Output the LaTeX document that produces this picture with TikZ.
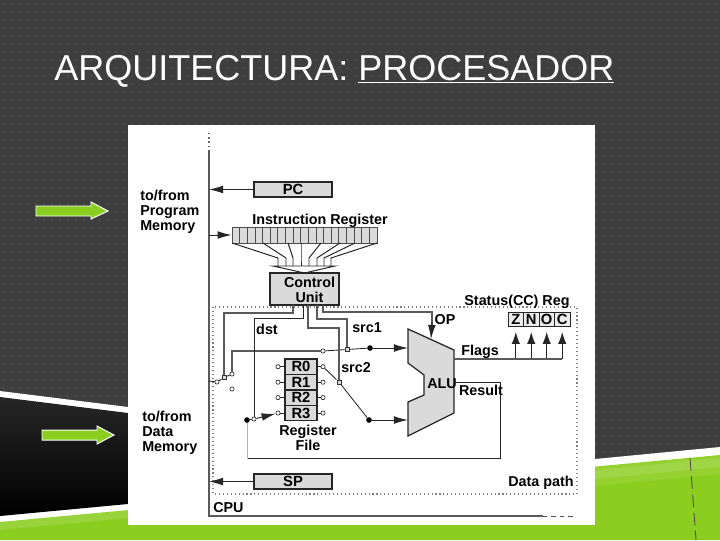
\documentclass[tikz,border=0pt]{standalone}
\usepackage{fontspec}
\setmainfont{Liberation Sans}
\usepackage{tikz}
\usetikzlibrary{arrows.meta, calc}
\definecolor{slate}{HTML}{3E3E3E}
\definecolor{grain}{HTML}{515151}
\definecolor{leaf}{HTML}{8CCE20}
\definecolor{boxgray}{HTML}{DADADA}
\definecolor{wiregray}{HTML}{5A5A5A}

\begin{document}
\begin{tikzpicture}[
    x=0.025cm, y=-0.025cm, >=Latex,
    % --- STYLES ---
    reg_box/.style={rectangle, draw=black!85, line width=0.9pt, fill=boxgray, inner sep=0pt, outer sep=0pt, font=\bfseries\fontsize{10.5}{11}\selectfont},
    cell/.style={rectangle, draw=black!70, line width=0.5pt, fill=boxgray, minimum width=0.19cm, minimum height=0.4cm, inner sep=0pt},
    bold_text/.style={font=\bfseries\fontsize{10.2}{10.7}\selectfont, text=black, inner sep=0pt, align=left, yshift=-1pt},
    tap/.style={circle, draw=black!80, fill=white, line width=0.5pt, minimum size=3pt, inner sep=0pt},
    joint/.style={rectangle, draw=black!80, fill=boxgray, line width=0.5pt, minimum size=3pt, inner sep=0pt},
    solder/.style={circle, fill=black, minimum size=4pt, inner sep=0pt},
    % Wire Styles
    thin_wire/.style={black!85, line width=0.6pt},
    ctl_wire/.style={wiregray, line width=1.1pt},
    data_push/.style={->, black!85, line width=0.7pt, >={Latex[length=10pt, width=5.5pt]}},
    flag_push/.style={->, black!85, line width=0.7pt, >={Latex[length=8.5pt, width=6pt]}},
    green_arrow/.style={draw=white, line width=0.7pt, fill=leaf}
]
\useasboundingbox (0,0) rectangle (720,540);

% --- 1. SLIDE BACKGROUND ---
\fill[slate] (0,0) rectangle (720,540);
\fill[grain] \foreach \i in {0,...,89} { \foreach \j in {0,...,60} { (\i*8+3,\j*8+3) rectangle ++(1,2) } };
\fill[white] (0,391) -- (128,407) -- (128,512) -- (0,524) -- cycle;
\shade[top color=black!85, bottom color=black] (0,397) -- (128,413) -- (128,504) -- (0,516) -- cycle;
\fill[white] (595,459) -- (720,447) -- (720,460) -- (595,472) -- cycle;
\fill[leaf] (0,522) -- (720,455) -- (720,540) -- (0,540) -- cycle;
\fill[white, opacity=0.08] (595,467) -- (720,455) -- (720,474) -- (595,486) -- cycle;
\fill[white, opacity=0.1] (595,470) -- (720,458) -- (720,467) -- (595,479) -- cycle;
\fill[white, opacity=0.12] (0,522) -- (128,510) -- (128,518) -- (0,530) -- cycle;
\draw[black!70, dashed, line width=0.6pt, dash pattern=on 9pt off 4pt] (690,458) -- (696,540);

\node[anchor=base west, text=white, inner sep=0pt, font=\fontsize{25.6}{30}\selectfont] (TITLE) at (54,80) {ARQUITECTURA: \underline{PROCESADOR}};

% Green pointers
\draw[green_arrow] (36,206) -- (91,206) -- (91,202) -- (108,211) -- (91,219) -- (91,216) -- (36,216) -- cycle;
\draw[green_arrow] (42,430) -- (97,430) -- (97,426) -- (114,435) -- (97,444) -- (97,440) -- (42,440) -- cycle;

% --- 2. WHITE PANEL AND FRAMES ---
\fill[white] (128,125) rectangle (595,525);
\draw[gray, dotted, line width=0.8pt] (213,307) rectangle (577,494);
\draw[black!60, dotted, line width=1pt] (209,133) -- (209,150);
\draw[wiregray, line width=1pt] (209,150) -- (209,516) -- (543,516);
\draw[black!70, dashed, line width=0.7pt] (543,516) -- (575,516);

% --- 3. PROGRAM SIDE ---
\node[reg_box, minimum width=1.95cm, minimum height=0.375cm] (PC) at (293,189.5) {PC};
\coordinate (BUSPC) at (209,189.5);
\draw[data_push] (PC.west) -- (BUSPC);

\foreach \k in {0,...,18} {
    \node[cell] (IR\k) at ({235.8+7.63*\k},235) {};
}
\node[bold_text] (IRT) at (320,219) {Instruction Register};
\coordinate (BUSIR) at (209,235);
\draw[data_push] (BUSIR) -- (IR0.west);

\node[reg_box, minimum width=1.725cm, minimum height=0.8cm] (CU) at (304.5,289) {};
\node[bold_text, align=center] (CUT) at (309.5,288.5) {Control\\Unit};

% Fan into the control unit
\foreach \from/\to in {232/278, 263/286, 288/293, 301/301, 321/309, 340/317, 355/324, 377/331} {
    \draw[black!85, line width=0.7pt] (\from,243) -- (\to,258) -- (\to,266);
}
\coordinate (FUNL) at (273,266);
\coordinate (FUNR) at (335,266);
\draw[black!85, line width=0.7pt] (FUNL) -- (FUNR) -- (CU.north) -- cycle;

% --- 4. REGISTER FILE ---
\foreach \n/\yy in {0/366.7, 1/382.2, 2/397.6, 3/413} {
    \node[reg_box, minimum width=0.8cm, minimum height=0.385cm] (R\n) at (301,\yy) {R\n};
    \node[tap] (RL\n) at (278,\yy) {};
    \node[tap] (RR\n) at (323,\yy) {};
    \draw[thin_wire] (RL\n) -- (R\n);
    \draw[thin_wire] (R\n) -- (RR\n);
}
\node[bold_text, align=center] (RFT) at (308,436) {Register\\File};

% --- 5. ALU ---
\draw[black!85, line width=0.9pt, fill=boxgray] (408,329) -- (454,350) -- (454,413) -- (408,436) -- (408,402) -- (424,395) -- (424,375) -- (408,363) -- cycle;
\coordinate (ALUA) at (408,348);
\coordinate (ALUB) at (408,420);
\coordinate (ALUOP) at (431,339);
\coordinate (ALUF) at (454,359);
\coordinate (ALUR) at (454,382);
\node[bold_text] (ALUT) at (442,382) {ALU};

% --- 6. STATUS REGISTER ---
\foreach \s/\xx in {Z/515.8, N/531.2, O/546.7, C/562.2} {
    \node[reg_box, minimum width=0.3875cm, minimum height=0.35cm, line width=0.6pt, fill=black!8] (\s) at (\xx,319) {\s};
    \coordinate (F\s) at (\xx,359);
    \draw[flag_push] (F\s) -- (\xx,332);
}
\draw[ctl_wire] (ALUF) -- (FC);
\node[bold_text] (STT) at (517,300) {Status(CC) Reg};

% --- 7. SWITCHES AND JOINTS ---
\coordinate (BUSSW) at (209,381);
\node[tap] (SWL) at (217,382) {};
\node[joint] (SWM) at (224,377.5) {};
\node[tap] (SWR) at (232,374) {};
\node[tap] (SWO) at (232,389) {};
\draw[thin_wire] (BUSSW) -- (SWL) -- (SWM) -- (SWR);

\node[tap] (SA) at (323,351) {};
\node[joint] (SB) at (347,349.5) {};
\node[solder] (SC) at (370,348) {};
\node[joint] (SD) at (339,382) {};
\node[solder] (SE) at (369,420) {};
\node[solder] (SF) at (247,420) {};
\node[tap] (SG) at (254,419) {};

% Data path wires
\draw[ctl_wire] (SWR) -- (232,351) -- (SA);
\draw[thin_wire] (SA) -- (SB) -- (SC);
\draw[data_push] (SC) -- (ALUA);
\draw[thin_wire] (RR0) -- (SD) -- (SE);
\draw[data_push] (SE) -- (ALUB);
\draw[thin_wire] (SF) -- (SG);
\draw[data_push] (SG) -- (RL3);
\draw[thin_wire] (ALUR) -- (500,382) -- (500,458.5) -- (247,458.5);
\draw[gray!60, line width=0.4pt] (247,458.5) -- (SF);

% --- 8. CONTROL LINES ---
\coordinate (CTA) at (293,305);
\coordinate (CTB) at (303,305);
\coordinate (CTC) at (308,305);
\coordinate (CTD) at (317,305);
\coordinate (CTE) at (323,305);
\draw[ctl_wire] (CTA) -- (293,313) -- (224,313) -- (SWM);
\draw[thin_wire] (CTB) -- (303,318) -- (254,318) -- (SG);
\draw[wiregray, line width=0.8pt] (CTC) -- (308,328) -- (339,328) -- (SD);
\draw[wiregray, line width=0.8pt] (CTD) -- (317,319) -- (347,319) -- (SB);
\draw[wiregray, line width=0.8pt] (CTE) -- (323,312) -- (432,312) -- (432,325);
\draw[data_push] (432,322) -- (ALUOP);

% --- 9. LOWER REGISTER ---
\node[reg_box, minimum width=1.95cm, minimum height=0.375cm] (SP) at (293,481.5) {SP};
\coordinate (BUSSP) at (209,481.5);
\draw[data_push] (SP.west) -- (BUSSP);

% --- LABELS ---
\node[bold_text, anchor=west] (PROGT) at (140,210) {to/from\\Program\\Memory};
\node[bold_text, anchor=west] (DATAT) at (142,431) {to/from\\Data\\Memory};
\node[bold_text] (DST) at (267,328) {dst};
\node[bold_text] (SRCA) at (367,326) {src1};
\node[bold_text] (SRCB) at (356,366) {src2};
\node[bold_text] (OPT) at (445,318) {OP};
\node[bold_text] (FLAGS) at (480,350) {Flags};
\node[bold_text] (RESULT) at (481,389) {Result};
\node[bold_text, anchor=east] (DPATH) at (574,481) {Data path};
\node[bold_text, anchor=west] (CPUT) at (213,506) {CPU};

\end{tikzpicture}
\end{document}
